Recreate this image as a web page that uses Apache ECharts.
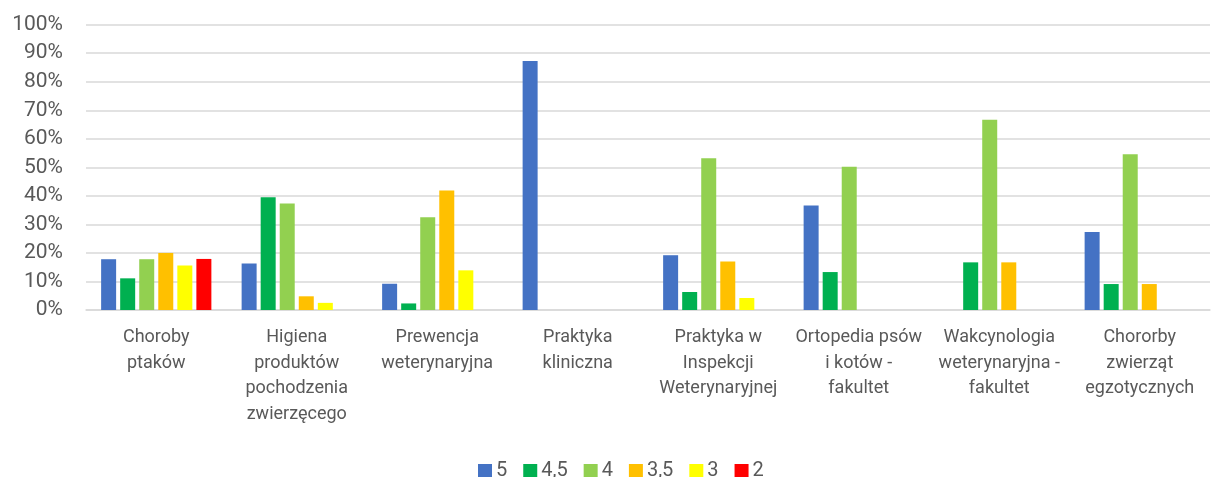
<!DOCTYPE html>
<html>
<head>
<meta charset="utf-8">
<title>Oceny</title>
<script src="https://cdn.jsdelivr.net/npm/echarts@6/dist/echarts.min.js"></script>
<style>
	html, body { margin: 0; padding: 0; background: #fff; }
	#gradeChart { width: 1212px; height: 477px; }
</style>
</head>
<body>
<div id="gradeChart"></div>
<script>
//kategorie (przedmioty)
var categories = [
	'Choroby\nptaków',
	'Higiena\nproduktów\npochodzenia\nzwierzęcego',
	'Prewencja\nweterynaryjna',
	'Praktyka\nkliniczna',
	'Praktyka w\nInspekcji\nWeterynaryjnej',
	'Ortopedia psów\ni kotów -\nfakultet',
	'Wakcynologia\nweterynaryjna -\nfakultet',
	'Chororby\nzwierząt\negzotycznych'
];
var seriesNames = ['5', '4,5', '4', '3,5', '3', '2'];
var yTicks = [0, 10, 20, 30, 40, 50, 60, 70, 80, 90, 100];

// udział ocen w %
var grade5   = [17.8, 16.3, 9.2, 87.3, 19.2, 36.6, 0, 27.3];
var grade45  = [11.1, 39.5, 2.3, 0, 6.3, 13.3, 16.7, 9.1];
var grade4   = [17.8, 37.3, 32.5, 0, 53.2, 50.2, 66.7, 54.6];
var grade35  = [20.0, 4.8, 41.9, 0, 17.0, 0, 16.7, 9.1];
var grade3   = [15.6, 2.5, 13.9, 0, 4.2, 0, 0, 0];
var grade2   = [17.9, 0, 0, 0, 0, 0, 0, 0];

var colors = ['#4472C4', '#00B050', '#92D050', '#FFC000', '#FFFF00', '#FF0000'];

function buildSeries() {
	var all = [grade5, grade45, grade4, grade35, grade3, grade2];
	var list = [];
	for (var i = 0; i < all.length; i++) {
		list.push({
			name: seriesNames[i],
			type: 'bar',
			barWidth: 15,
			barGap: '27%',
			data: all[i]
		});
	}
	return list;
}

function setOptions() {
	var chart = echarts.init(document.getElementById('gradeChart'));
	var fontName = 'Roboto, "Open Sans", sans-serif';
	var option = {
		animation: false,
		color: colors,
		textStyle: { fontFamily: fontName },
		grid: {
			left: 86,
			right: 2,
			top: 24.7,
			bottom: 167
		},
		legend: {
			data: seriesNames,
			left: 473,
			top: 456,
			itemWidth: 14,
			itemHeight: 14,
			itemGap: 16,
			icon: 'rect',
			textStyle: { color: '#595959', fontSize: 20, fontFamily: fontName, padding: [0, 0, 0, -1] }
		},
		xAxis: [{
			type: 'category',
			data: categories,
			axisLine: { lineStyle: { color: '#D9D9D9', width: 1.5 } },
			axisTick: { show: false },
			axisLabel: {
				interval: 0,
				color: '#595959',
				fontSize: 18,
				lineHeight: 25.5,
				margin: 15,
				fontFamily: fontName
			}
		}],
		yAxis: [{
			type: 'value',
			min: yTicks[0],
			max: yTicks[yTicks.length - 1],
			interval: 10,
			axisLine: { show: false },
			axisTick: { show: false },
			splitLine: { lineStyle: { color: '#D9D9D9', width: 1.5 } },
			axisLabel: {
				formatter: '{value}%',
				color: '#595959',
				fontSize: 21,
				margin: 23,
				fontFamily: fontName
			}
		}],
		series: buildSeries()
	};
	chart.setOption(option);
}

setOptions();
</script>
</body>
</html>
